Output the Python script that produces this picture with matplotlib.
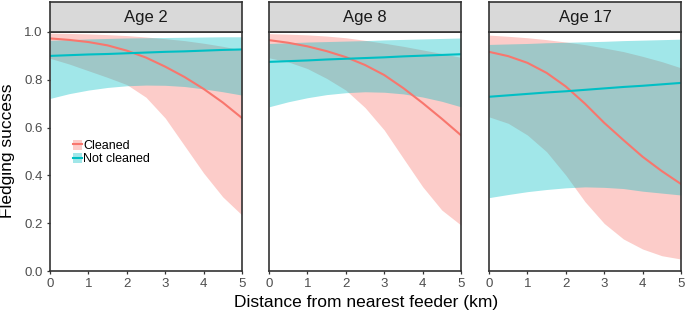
import numpy as np
import matplotlib.pyplot as plt
from matplotlib.patches import Patch
from matplotlib.lines import Line2D

plt.rcParams['font.family'] = ['Liberation Sans', 'DejaVu Sans']

# distance grid the values were read at (km)
dist = [0, 0.5, 1, 1.5, 2, 2.5, 3, 3.5, 4, 4.5, 5]
ages = ['Age 2', 'Age 8', 'Age 17']

# Cleaned: fit, lower, upper
clean_fit = [
    [0.973, 0.967, 0.958, 0.944, 0.922, 0.893, 0.855, 0.812, 0.762, 0.705, 0.640],
    [0.966, 0.955, 0.940, 0.920, 0.895, 0.862, 0.820, 0.765, 0.703, 0.637, 0.568],
    [0.917, 0.899, 0.871, 0.829, 0.772, 0.700, 0.620, 0.548, 0.478, 0.418, 0.364],
]
clean_lo = [
    [0.890, 0.866, 0.838, 0.810, 0.780, 0.727, 0.640, 0.525, 0.410, 0.310, 0.234],
    [0.892, 0.875, 0.847, 0.806, 0.757, 0.684, 0.590, 0.471, 0.353, 0.255, 0.192],
    [0.645, 0.618, 0.569, 0.499, 0.401, 0.290, 0.199, 0.134, 0.092, 0.064, 0.050],
]
clean_hi = [
    [0.995, 0.994, 0.992, 0.989, 0.985, 0.979, 0.972, 0.964, 0.953, 0.940, 0.924],
    [0.993, 0.991, 0.988, 0.983, 0.976, 0.965, 0.953, 0.940, 0.925, 0.910, 0.894],
    [0.987, 0.982, 0.976, 0.968, 0.958, 0.947, 0.933, 0.918, 0.898, 0.876, 0.850],
]

# Not cleaned: fit, lower, upper
notcl_fit = [
    [0.900, 0.903, 0.906, 0.908, 0.911, 0.914, 0.917, 0.919, 0.922, 0.925, 0.927],
    [0.875, 0.878, 0.881, 0.885, 0.888, 0.891, 0.894, 0.898, 0.901, 0.904, 0.907],
    [0.729, 0.735, 0.741, 0.747, 0.752, 0.758, 0.764, 0.770, 0.775, 0.781, 0.787],
]
notcl_lo = [
    [0.722, 0.742, 0.757, 0.768, 0.775, 0.778, 0.777, 0.772, 0.762, 0.750, 0.736],
    [0.687, 0.708, 0.725, 0.738, 0.746, 0.750, 0.748, 0.741, 0.728, 0.710, 0.687],
    [0.307, 0.320, 0.332, 0.341, 0.348, 0.352, 0.350, 0.345, 0.334, 0.326, 0.318],
]
notcl_hi = [
    [0.965, 0.968, 0.971, 0.973, 0.975, 0.976, 0.977, 0.978, 0.979, 0.980, 0.980],
    [0.952, 0.955, 0.958, 0.960, 0.962, 0.964, 0.967, 0.969, 0.971, 0.973, 0.975],
    [0.948, 0.950, 0.952, 0.955, 0.957, 0.959, 0.961, 0.964, 0.966, 0.968, 0.970],
]

red = '#F8766D'
teal = '#00BFC4'
dark = '#333333'
fill_alpha = 0.37

fig = plt.figure(figsize=(6.85, 3.16), dpi=100)
W, H = 685, 316
lefts = [50, 269, 489]
pw = 192
top_px, bot_px = 32, 271

for i in range(3):
    ax = fig.add_axes([lefts[i] / W, (H - bot_px) / H, pw / W, (bot_px - top_px) / H])
    ax.fill_between(dist, clean_lo[i], clean_hi[i], color=red, alpha=fill_alpha, lw=0)
    ax.fill_between(dist, notcl_lo[i], notcl_hi[i], color=teal, alpha=fill_alpha, lw=0)
    ax.plot(dist, clean_fit[i], color=red, lw=1.5)
    ax.plot(dist, notcl_fit[i], color=teal, lw=1.5)
    ax.set_xlim(0, 5)
    ax.set_ylim(0, 1.0)
    ax.set_xticks(range(6))
    ax.set_yticks([0, 0.2, 0.4, 0.6, 0.8, 1.0])
    for s in ax.spines.values():
        s.set_color(dark)
        s.set_linewidth(1.2)
    ax.tick_params(color=dark, labelcolor='#4D4D4D', labelsize=9.5, length=2.5, width=0.9, pad=2.8)
    if i == 0:
        ax.set_yticklabels(['0.0', '0.2', '0.4', '0.6', '0.8', '1.0'])
    else:
        ax.tick_params(axis='y', left=False, labelleft=False)

    # facet strip
    sax = fig.add_axes([lefts[i] / W, (H - top_px) / H, pw / W, 30 / H])
    sax.set_xticks([])
    sax.set_yticks([])
    sax.set_facecolor('#D9D9D9')
    for s in sax.spines.values():
        s.set_color(dark)
        s.set_linewidth(1.2)
    sax.text(0.5, 0.47, ages[i], ha='center', va='center', fontsize=12,
             color='#1A1A1A', transform=sax.transAxes)

    if i == 0:
        h_clean = (Patch(facecolor=red, alpha=fill_alpha, lw=0), Line2D([], [], color=red, lw=1.5))
        h_not = (Patch(facecolor=teal, alpha=fill_alpha, lw=0), Line2D([], [], color=teal, lw=1.5))
        ax.legend([h_clean, h_not], ['Cleaned', 'Not cleaned'], loc='upper left',
                  bbox_to_anchor=(0.12, 0.55), frameon=False, fontsize=9,
                  handlelength=0.7, handleheight=0.85, handletextpad=0.12,
                  labelspacing=0.08, borderpad=0, borderaxespad=0)

fig.text(8 / W, 1 - 151 / H, 'Fledging success', rotation=90, ha='center', va='center', fontsize=12.5)
fig.text(366 / W, 1 - 303 / H, 'Distance from nearest feeder (km)', ha='center', va='center', fontsize=12.5)

fig.savefig('out.png', dpi=100)
